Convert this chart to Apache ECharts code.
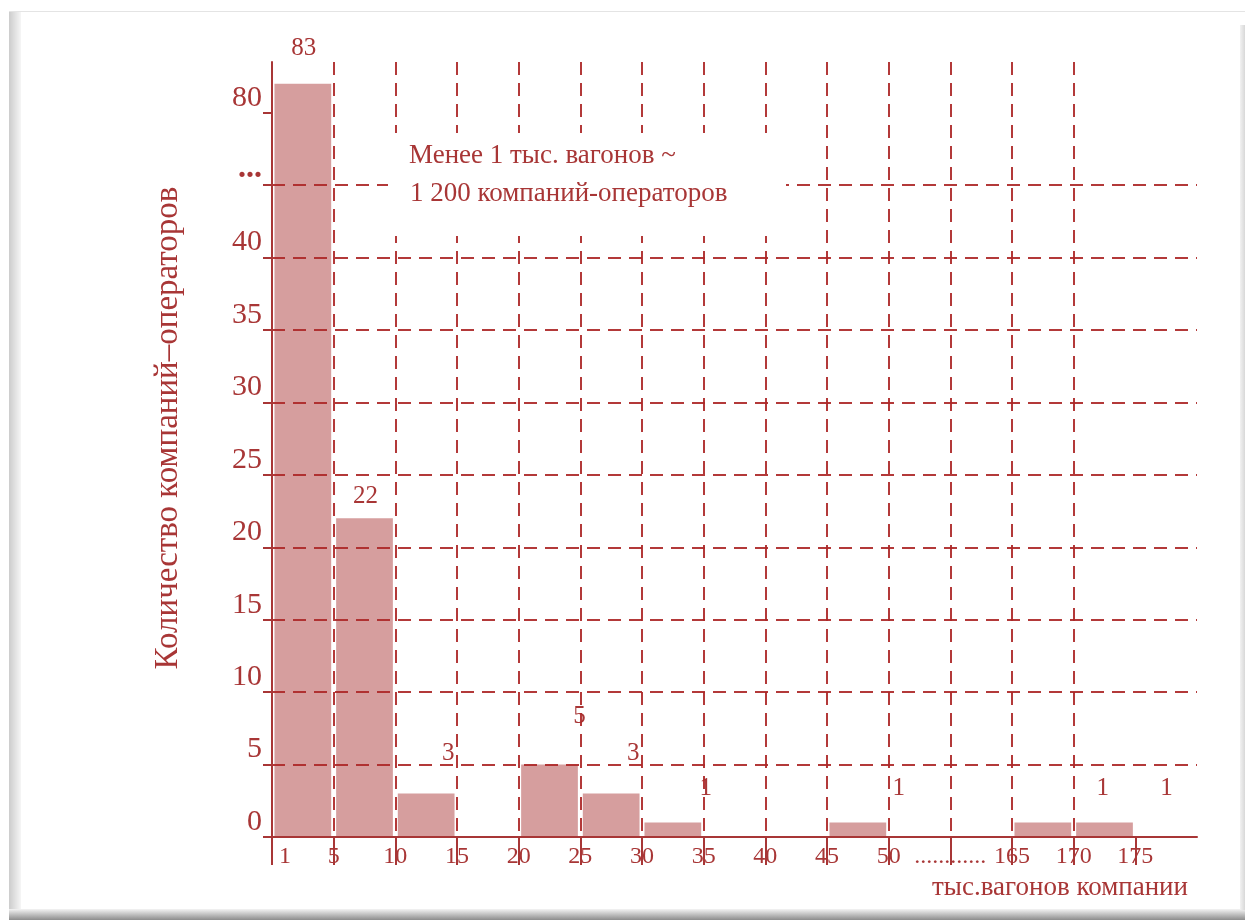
<!DOCTYPE html>
<html><head><meta charset="utf-8">
<script src="https://cdn.jsdelivr.net/npm/echarts@6/dist/echarts.min.js"></script>
<style>html,body{margin:0;padding:0;background:#fff}#c{width:1245px;height:920px}</style>
</head><body><div id="c"></div>
<script>
// ---- data ----
const categories = ['1–5','5–10','10–15','15–20','20–25','25–30','30–35','35–40','40–45','45–50','50–…','…–165','165–170','170–175','175+'];
const counts = [83, 22, 3, null, 5, 3, 1, null, null, 1, null, null, 1, 1, null];
const xTickLabels = ['1','5','10','15','20','25','30','35','40','45','50','............','165','170','175'];
const yTickLabels = ['0','5','10','15','20','25','30','35','40','...','80'];
const yTitle = 'Количество компаний–операторов';
const xTitle = 'тыс.вагонов компании';
const noteLines = ['Менее 1 тыс. вагонов ~', '1 200 компаний-операторов'];

// ---- broken y scale: 0..40 linear (5 per step), then "...", then 80 ----
function toSlot(v){ return v <= 40 ? v / 5 : 10 + (v - 80) / 7.5; }

// label offsets (style only)
const labelOffsets = [[1,-18],[1,-4],[22,-23],[0,0],[30,-31],[22,-23],[33,-17],[0,0],[0,0],[41,-17],[0,0],[0,0],[60,-17],[62,-17],[0,0]];

const RED = '#A83636';
const GRID = 'rgba(172,40,40,0.92)';
const SERIF = '"Liberation Serif","DejaVu Serif",serif';

const chart = echarts.init(document.getElementById('c'), null, {renderer:'canvas'});
chart.setOption({
  animation: false,
  backgroundColor: '#fff',
  grid: {left: 272, right: 48, top: 62, bottom: 83},
  xAxis: [
    {
      type: 'value', min: 0, max: 15, interval: 1, z: 3,
      axisLine: {show: true, lineStyle: {color: RED, width: 2}},
      axisTick: {show: true, length: 28, customValues: [0,1,2,3,4,5,6,7,8,9,10,11,12,13,14], lineStyle: {color: RED, width: 2}},
      axisLabel: {
        margin: 8, fontFamily: SERIF, fontSize: 24, color: RED,
        formatter: v => v === 0 ? '{f|' + xTickLabels[0] + '}' : (xTickLabels[v] || ''),
        rich: {f: {padding: [0,0,0,26], fontFamily: SERIF, fontSize: 24, color: RED}}
      },
      splitLine: {show: true, showMinLine: false, showMaxLine: false, lineStyle: {color: GRID, width: 2, type: [13, 8]}}
    },
    {type: 'category', data: categories, show: false, boundaryGap: true}
  ],
  yAxis: {
    type: 'value', min: 0, max: 10.7, interval: 1, z: 3,
    axisLine: {show: true, lineStyle: {color: RED, width: 2}},
    axisTick: {show: true, length: 9, customValues: [0,1,2,3,4,5,6,7,8,9,10], lineStyle: {color: RED, width: 2}},
    axisLabel: {
      margin: 10, fontFamily: SERIF, fontSize: 30, color: RED, verticalAlign: 'bottom',
      customValues: [0,1,2,3,4,5,6,7,8,9,10],
      formatter: v => Number.isInteger(v) ? (v === 9 ? '{d|' + yTickLabels[v] + '}' : (yTickLabels[v] || '')) : '',
      rich: {d: {fontFamily: SERIF, fontSize: 32, fontWeight: 'bold', color: RED}}
    },
    splitLine: {show: true, showMaxLine: false, lineStyle: {color: GRID, width: 2, type: [13, 8]}}
  },
  series: [{
    type: 'bar', xAxisIndex: 1, barCategoryGap: '8%',
    itemStyle: {color: '#D69E9E'},
    data: counts.map((c, i) => c == null ? null : {
      value: toSlot(c),
      label: {offset: labelOffsets[i]}
    }),
    label: {
      show: true, position: 'top', distance: 5,
      fontFamily: SERIF, fontSize: 25, color: RED,
      formatter: p => String(counts[p.dataIndex])
    }
  }],
  graphic: [
    // frame
    {type: 'rect', z: 20, shape: {x: 9, y: 11, width: 1236, height: 1}, style: {fill: '#e4e4e4'}},
    {type: 'rect', z: 20, shape: {x: 9, y: 12, width: 12, height: 908},
      style: {fill: new echarts.graphic.LinearGradient(0,0,1,0,[{offset:0,color:'#cccccc'},{offset:1,color:'#f6f6f6'}])}},
    {type: 'rect', z: 20, shape: {x: 9, y: 909, width: 1236, height: 11},
      style: {fill: new echarts.graphic.LinearGradient(0,0,0,1,[{offset:0,color:'#f4f4f4'},{offset:1,color:'#8c8c8c'}])}},
    {type: 'rect', z: 20, shape: {x: 1240, y: 25, width: 5, height: 885},
      style: {fill: new echarts.graphic.LinearGradient(0,0,1,0,[{offset:0,color:'#f2f2f2'},{offset:1,color:'#d8d8d8'}])}},
    // annotation box
    {type: 'rect', z: 10, shape: {x: 388, y: 133, width: 398, height: 103}, style: {fill: '#fff'}},
    {type: 'text', z: 11, left: 409, top: 142, style: {text: noteLines[0], fontFamily: SERIF, fontSize: 27, fill: RED}},
    {type: 'text', z: 11, left: 410, top: 180, style: {text: noteLines[1], fontFamily: SERIF, fontSize: 27, fill: RED}},
    // x title
    {type: 'text', z: 11, right: 57, top: 874, style: {text: xTitle, fontFamily: SERIF, fontSize: 27, fill: RED}},
    // y title
    {type: 'text', z: 11, x: 168, y: 428, rotation: Math.PI / 2,
      style: {text: yTitle, fontFamily: SERIF, fontSize: 33, fill: RED, align: 'center', verticalAlign: 'middle'}}
  ]
});
</script>
</body></html>
